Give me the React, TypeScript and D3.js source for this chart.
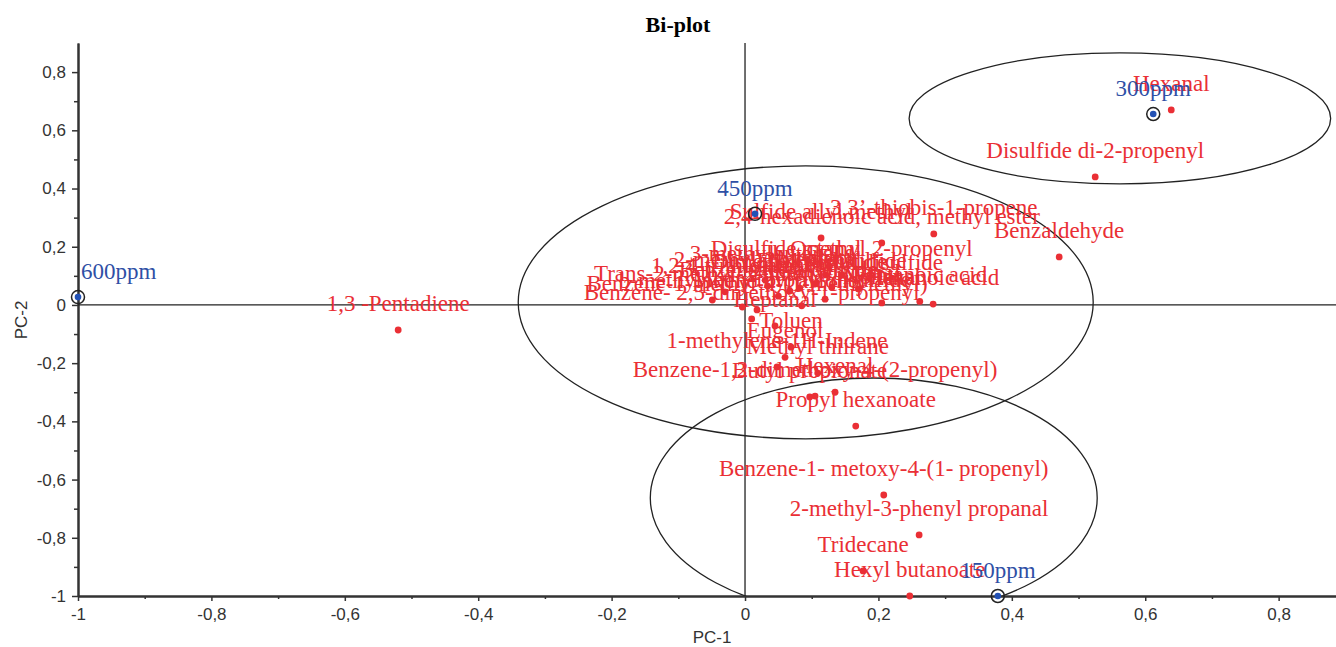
import React, { useRef, useEffect } from 'react';
import * as d3 from 'd3';

// variables (red) – PC-1 / PC-2 loadings
const variableNames = [
  'Hexanal',
  'Disulfide di-2-propenyl',
  'Benzaldehyde',
  '3,3’-thiobis-1-propene',
  '2,4-hexadienoic acid, methyl ester',
  'Sulfide allyl methyl',
  'Disulfide methyl 2-propenyl',
  'Octanal',
  '1,3 -Pentadiene',
  'Hexanoic acid',
  'Nonanal',
  'Dimethyl trisulfide',
  'Methyl propyl disulfide',
  '1,2,4-trithiolane',
  '2-methyl-2-pentenal',
  'Trans-2-methyl-2-butenal',
  'b-methylphenethyl alcohol',
  'Benzene-1-methyl-4-(1-methylethyl)',
  'Benzene- 2,5-dimethoxy-1-propenyl',
  'Heptanal',
  'Limonene',
  'Linalool',
  'Diallyl disulfide',
  'Benzeneacetaldehyde',
  '2-methylbutanal',
  'Dipropyl disulfide',
  '3-methylbutanal',
  'Pentanoic acid',
  'Toluen',
  'Eugenol',
  '1-methylene-1H-Indene',
  'Methyl thiirane',
  'Hexenal',
  'Butyl propionate',
  'Benzene-1,2-dimethoxy-4-(2-propenyl)',
  'Propyl hexanoate',
  'Benzene-1- metoxy-4-(1- propenyl)',
  '2-methyl-3-phenyl propanal',
  'Tridecane',
  'Hexyl butanoate',
];
const variablePC1 = [
  0.639, 0.525, 0.471, 0.283, 0.205, 0.114, 0.145, 0.121, -0.52, 0.282, 0.205, 0.082, 0.085,
  -0.03, 0.034, -0.049, -0.004, 0.018, 0.01, 0.045, 0.067, 0.105, 0.13, 0.05, 0.12, 0.17,
  0.03, 0.262, 0.069, 0.06, 0.048, 0.109, 0.135, 0.097, 0.105, 0.166, 0.208, 0.261, 0.177,
  0.247,
];
const variablePC2 = [
  0.67, 0.44, 0.165, 0.244, 0.213, 0.23, 0.103, 0.103, -0.086, 0.003, 0.007, 0.058, -0.003,
  0.045, 0.065, 0.017, -0.007, -0.017, -0.048, -0.072, 0.048, 0.072, 0.06, 0.03, 0.02, 0.055,
  0.085, 0.012, -0.145, -0.18, -0.213, -0.234, -0.3, -0.316, -0.313, -0.416, -0.653, -0.79,
  -0.914, -1.0,
];

// observations (blue)
const sampleNames = ['600ppm', '450ppm', '300ppm', '150ppm'];
const samplePC1 = [-1.0, 0.015, 0.612, 0.379];
const samplePC2 = [0.027, 0.313, 0.656, -1.0];

// group ellipses
const ellipseCX = [0.562, 0.091, 0.193];
const ellipseCY = [0.641, 0.009, -0.663];
const ellipseRX = [0.316, 0.431, 0.335];
const ellipseRY = [0.225, 0.469, 0.412];

const xTicks = [-1, -0.8, -0.6, -0.4, -0.2, 0, 0.2, 0.4, 0.6, 0.8];
const yTicks = [-1, -0.8, -0.6, -0.4, -0.2, 0, 0.2, 0.4, 0.6, 0.8];
const xMinor = [-0.9, -0.7, -0.5, -0.3, -0.1, 0.1, 0.3, 0.5, 0.7];
const yMinor = [-0.9, -0.7, -0.5, -0.3, -0.1, 0.1, 0.3, 0.5, 0.7];

const RED = '#ea2f35';
const BLUE = '#2f4fa5';
const SANS = '"Liberation Sans", Arial, sans-serif';
const SERIF = '"Liberation Serif", "Times New Roman", serif';

const BiPlot: React.FC = () => {
  const svgRef = useRef<SVGSVGElement | null>(null);

  useEffect(() => {
    if (!svgRef.current) return;
    const svg = d3.select(svgRef.current);
    svg.selectAll('*').remove();

    const left = 78, right = 1336, top = 43, bottom = 596;
    const x = d3.scaleLinear().domain([-1, 0.886]).range([left, right]);
    const y = d3.scaleLinear().domain([-1, 0.9]).range([bottom, top]);
    const fmt = (d: d3.NumberValue) => String(+d).replace('.', ',');

    svg.append('defs').append('clipPath').attr('id', 'plot-clip')
      .append('rect')
      .attr('x', left).attr('y', top)
      .attr('width', right - left).attr('height', bottom - top);

    // title + axis titles
    svg.append('text')
      .attr('x', 678).attr('y', 32)
      .attr('text-anchor', 'middle')
      .style('font-family', SERIF).style('font-weight', 'bold').style('font-size', '22px')
      .text('Bi-plot');
    svg.append('text')
      .attr('x', 712).attr('y', 643)
      .attr('text-anchor', 'middle')
      .style('font-family', SANS).style('font-size', '17px').style('fill', '#333')
      .text('PC-1');
    svg.append('text')
      .attr('transform', 'translate(27,320) rotate(-90)')
      .attr('text-anchor', 'middle')
      .style('font-family', SANS).style('font-size', '17px').style('fill', '#333')
      .text('PC-2');

    // ellipses
    svg.append('g').attr('clip-path', 'url(#plot-clip)')
      .selectAll('ellipse')
      .data(ellipseCX.map((cx, i) => i))
      .enter()
      .append('ellipse')
      .attr('cx', i => x(ellipseCX[i]))
      .attr('cy', i => y(ellipseCY[i]))
      .attr('rx', i => x(ellipseCX[i] + ellipseRX[i]) - x(ellipseCX[i]))
      .attr('ry', i => y(ellipseCY[i]) - y(ellipseCY[i] + ellipseRY[i]))
      .attr('fill', 'none')
      .attr('stroke', '#222')
      .attr('stroke-width', 1.3);

    // axes
    const styleAxis = (g: d3.Selection<SVGGElement, unknown, null, undefined>) => {
      g.select('.domain').attr('stroke', '#333').attr('stroke-width', 2);
      g.selectAll('.tick line').attr('stroke', '#333').attr('stroke-width', 1.5);
      g.selectAll('.tick text')
        .style('font-family', SANS).style('font-size', '17px').style('fill', '#333');
    };

    svg.append('g')
      .attr('transform', `translate(0,${bottom})`)
      .call(d3.axisBottom(x).tickValues(xMinor).tickFormat(() => '').tickSize(3).tickSizeOuter(0))
      .call(styleAxis);
    svg.append('g')
      .attr('transform', `translate(0,${bottom})`)
      .call(d3.axisBottom(x).tickValues(xTicks).tickFormat(fmt).tickSize(5).tickPadding(7).tickSizeOuter(0))
      .call(styleAxis);
    svg.append('g')
      .attr('transform', `translate(${left},0)`)
      .call(d3.axisLeft(y).tickValues(yMinor).tickFormat(() => '').tickSize(4).tickSizeOuter(0))
      .call(styleAxis);
    svg.append('g')
      .attr('transform', `translate(${left},0)`)
      .call(d3.axisLeft(y).tickValues(yTicks).tickFormat(fmt).tickSize(6).tickPadding(6).tickSizeOuter(0))
      .call(styleAxis);

    // zero lines
    svg.append('line')
      .attr('x1', left).attr('x2', right).attr('y1', y(0)).attr('y2', y(0))
      .attr('stroke', '#222').attr('stroke-width', 1.3);
    svg.append('line')
      .attr('x1', x(0)).attr('x2', x(0)).attr('y1', top).attr('y2', bottom)
      .attr('stroke', '#222').attr('stroke-width', 1.3);

    // variables
    const vars = variableNames.map((name, i) => ({ name, pc1: variablePC1[i], pc2: variablePC2[i] }));
    const vg = svg.append('g');
    vg.selectAll('circle')
      .data(vars)
      .enter()
      .append('circle')
      .attr('cx', d => x(d.pc1))
      .attr('cy', d => y(d.pc2))
      .attr('r', 3.4)
      .attr('fill', RED);
    vg.selectAll('text')
      .data(vars)
      .enter()
      .append('text')
      .attr('x', d => x(d.pc1))
      .attr('y', d => y(d.pc2) - 19)
      .attr('text-anchor', 'middle')
      .style('font-family', SERIF).style('font-size', '23px')
      .style('fill', RED)
      .text(d => d.name);

    // observations
    const obs = sampleNames.map((name, i) => ({ name, pc1: samplePC1[i], pc2: samplePC2[i] }));
    const og = svg.append('g');
    og.selectAll('circle.ring')
      .data(obs)
      .enter()
      .append('circle')
      .attr('class', 'ring')
      .attr('cx', d => x(d.pc1))
      .attr('cy', d => y(d.pc2))
      .attr('r', 6.5)
      .attr('fill', 'none')
      .attr('stroke', '#222')
      .attr('stroke-width', 1.5);
    og.selectAll('circle.dot')
      .data(obs)
      .enter()
      .append('circle')
      .attr('class', 'dot')
      .attr('cx', d => x(d.pc1))
      .attr('cy', d => y(d.pc2))
      .attr('r', 3.3)
      .attr('fill', '#2251b5');
    og.selectAll('text')
      .data(obs)
      .enter()
      .append('text')
      .attr('x', d => x(d.pc1))
      .attr('y', d => y(d.pc2) - 18)
      .attr('text-anchor', 'middle')
      .style('font-family', SERIF).style('font-size', '23px')
      .style('fill', BLUE)
      .text(d => d.name)
      .each(function (d) {
        // keep label inside the plot area
        const w = (this as SVGTextElement).getComputedTextLength();
        if (x(d.pc1) - w / 2 < left) {
          d3.select(this).attr('text-anchor', 'start').attr('x', x(d.pc1) + 3);
        }
      });
  }, []);

  return (
    <svg
      ref={svgRef}
      width={1336}
      height={647}
      style={{ position: 'absolute', left: 0, top: 0, background: '#fff' }}
    />
  );
};

export default function App() {
  return <BiPlot />;
}
